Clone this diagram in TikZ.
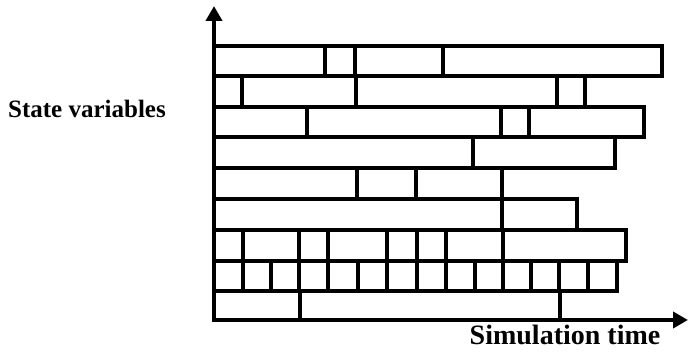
\documentclass[tikz,border=0pt]{standalone}
\usepackage{fontspec}
\setmainfont{Liberation Serif}
\usetikzlibrary{arrows.meta}
\tikzset{
  cell/.style={draw=black, line width=3.1pt, line join=miter},
  axis/.style={draw=black, line width=4pt, -{Triangle[length=15pt,width=16pt]}},
  lbl/.style={font=\bfseries, inner sep=0pt, anchor=base}
}
\begin{document}
\begin{tikzpicture}[x=1pt,y=-1pt]
\useasboundingbox (0,0) rectangle (688,352);
% rows: top, bottom, end, dividers
\newcommand{\staterow}[4]{%
  \draw[cell] (214,#1) rectangle (#3,#2);
  \foreach \d in {#4} {\draw[cell] (\d,#1) -- (\d,#2);}
}
\staterow{46}{76}{662}{325,355,443}
\staterow{76}{107}{585}{242,356,557}
\staterow{107}{137}{644}{307,501,529}
\staterow{137}{168}{615}{473}
\staterow{168}{199}{502}{357,416}
\staterow{199}{230}{577}{502}
\staterow{230}{261}{626}{243,299,328,387,417,446,503}
\staterow{261}{291}{617}{243,271,299,328,358,387,417,446,475,503,531,559,588}
\staterow{291}{320}{560}{300}
% axes
\coordinate (origin) at (214,322);
\coordinate (ytip) at (214,6);
\coordinate (xtip) at (688,320);
\coordinate (xstart) at (212,320);
\draw[axis] (origin) -- (ytip);
\draw[axis] (xstart) -- (xtip);
% labels
\node[lbl, font=\fontsize{25}{28}\selectfont\bfseries] (sv) at (87,118) {State variables};
\node[lbl, font=\fontsize{28}{31}\selectfont\bfseries] (st) at (565,345) {Simulation time};
\end{tikzpicture}
\end{document}
